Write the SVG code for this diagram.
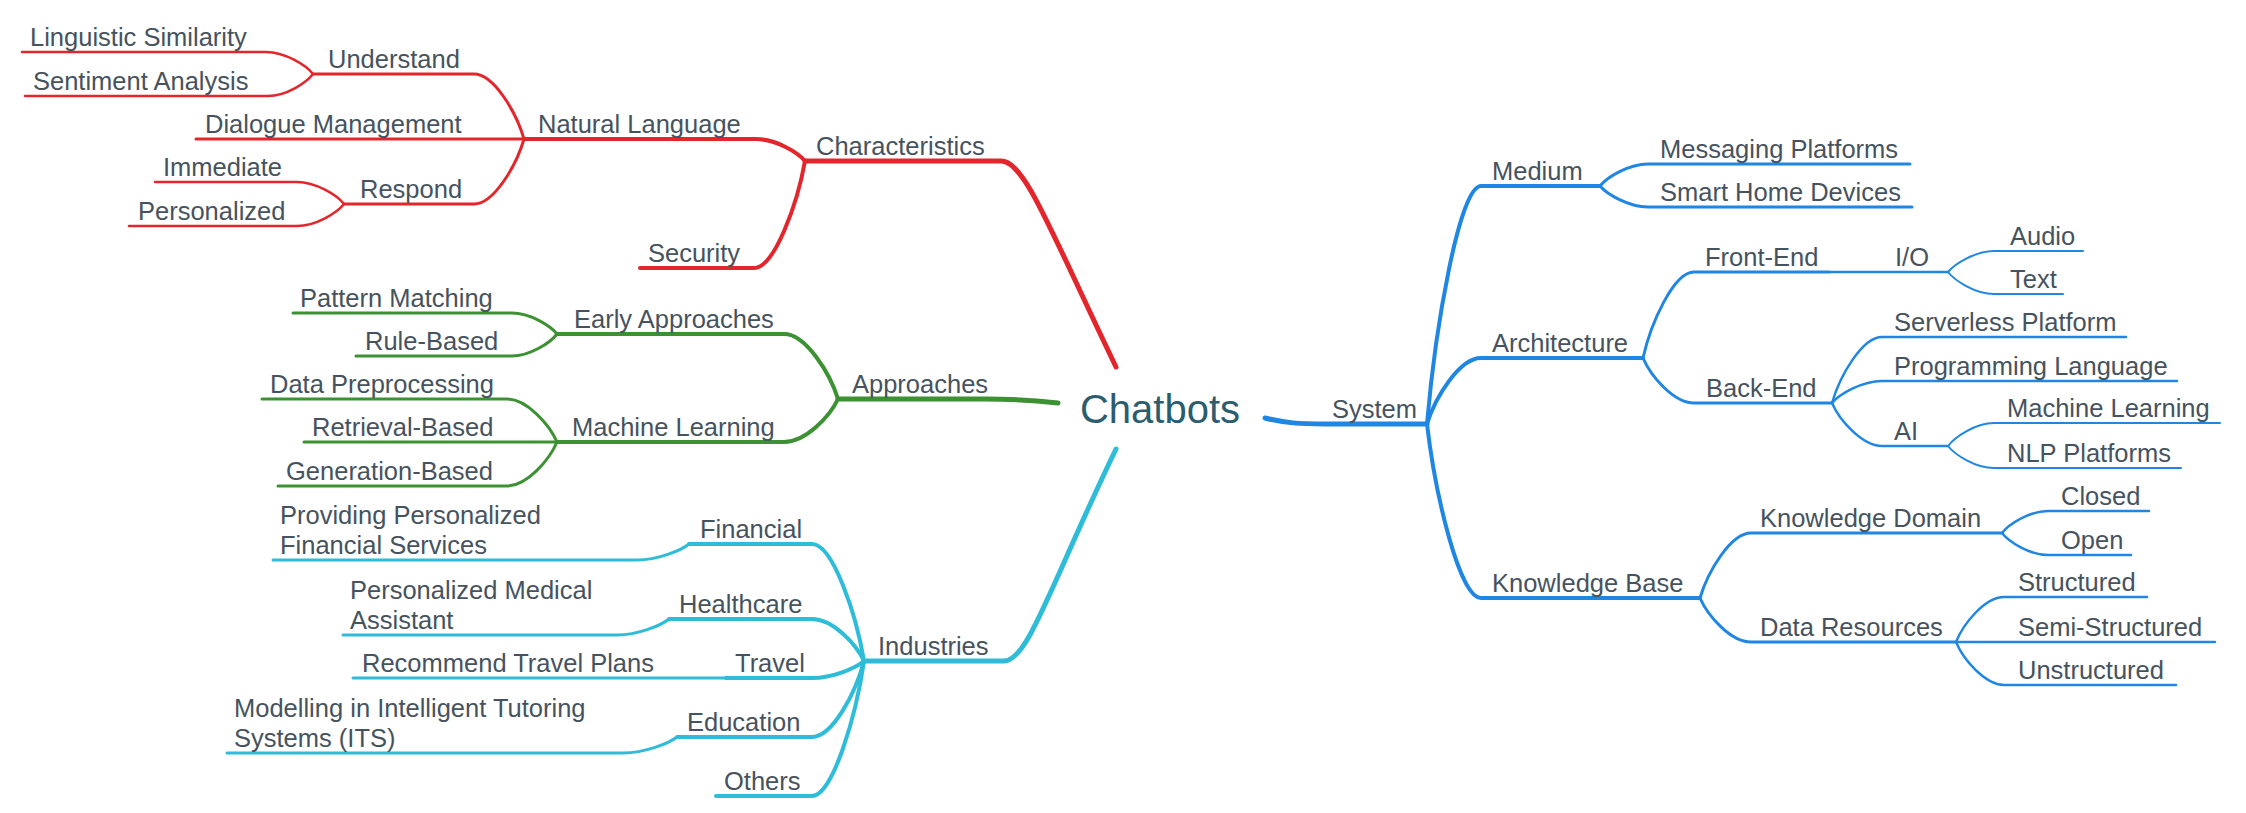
<svg xmlns="http://www.w3.org/2000/svg" width="2246" height="813" viewBox="0 0 2246 813">
<style>
.t{font-family:"Liberation Sans",Arial,Helvetica,sans-serif;font-size:25.5px;fill:#46535e}
.root{font-family:"Liberation Sans",Arial,Helvetica,sans-serif;font-size:40px;fill:#2c5d6f}
.c{fill:none;stroke-linecap:round;stroke-linejoin:round}
.r{stroke:#e3262b}.g{stroke:#3c9132}.y{stroke:#2ebcd8}.b{stroke:#1f87e3}
.w5{stroke-width:5}.w4{stroke-width:4}.w3{stroke-width:3}.w25{stroke-width:2.5}.w2{stroke-width:2}
</style>
<rect width="2246" height="813" fill="#ffffff"/>
<g id="connectors">
<!-- red -->
<path class="c r w5" d="M1116 367 C1050 230,1025 161,1001 161 L805 161"/>
<path class="c r w4" d="M805 161 C797.6 152.2,775.6 139,756 139 L524 139"/>
<path class="c r w4" d="M805 161 C797.4 203.8,774.4 268,754 268 L640 268"/>
<path class="c r w3" d="M524 139 C516.5 113,494 74,474 74 L313 74"/>
<path class="c r w3" d="M524 139 L196 139"/>
<path class="c r w3" d="M524 139 C516.5 165,494 204,474 204 L344 204"/>
<path class="c r w25" d="M313 74 C306 65.2,284.8 52,266 52 L22 52"/>
<path class="c r w25" d="M313 74 C306.3 82.8,286 96,268 96 L25 96"/>
<path class="c r w25" d="M344 204 C337 195.2,315.8 182,297 182 L155 182"/>
<path class="c r w25" d="M344 204 C337 212.8,315.8 226,297 226 L129 226"/>
<!-- green -->
<path class="c g w5" d="M1058 403 C1030 400,1010 399,985 399 L838 399"/>
<path class="c g w4" d="M838 399 C829.9 373,805.6 334,784 334 L557 334"/>
<path class="c g w4" d="M838 399 C829.9 416.2,805.6 442,784 442 L557 442"/>
<path class="c g w3" d="M557 334 C550.3 325.6,530 313,512 313 L293 313"/>
<path class="c g w3" d="M557 334 C550.3 342.8,530 356,512 356 L356 356"/>
<path class="c g w3" d="M557 442 C549.5 424.8,527 399,507 399 L262 399"/>
<path class="c g w3" d="M557 442 L304 442"/>
<path class="c g w3" d="M557 442 C549.5 459.6,527 486,507 486 L278 486"/>
<!-- cyan -->
<path class="c y w5" d="M1116 449 C1050 586,1028 661,1004 661 L864 661"/>
<path class="c y w4" d="M864 661 C856.2 614.2,832.8 544,812 544 L689 544"/>
<path class="c y w4" d="M864 661 C856.2 644.2,832.8 619,812 619 L669 619"/>
<path class="c y w4" d="M864 661 C856.2 667.8,832.8 678,812 678 L726 678"/>
<path class="c y w4" d="M864 661 C856.2 691.4,832.8 737,812 737 L677 737"/>
<path class="c y w4" d="M864 661 C856.2 715,832.8 796,812 796 L716 796"/>
<path class="c y w3" d="M689 544 C681.2 550.4,657.8 560,637 560 L273 560"/>
<path class="c y w3" d="M669 619 C661.2 625.4,637.8 635,617 635 L343 635"/>
<path class="c y w3" d="M726 678 L353 678"/>
<path class="c y w3" d="M677 737 C668.9 743.4,644.6 753,623 753 L227 753"/>
<!-- blue -->
<path class="c b w5" d="M1265 418 C1285 423,1300 424,1325 424 L1427 424"/>
<path class="c b w4" d="M1427 424 C1435.1 328.8,1459.4 186,1481 186 L1600 186"/>
<path class="c b w4" d="M1427 424 C1435.1 397.6,1459.4 358,1481 358 L1643 358"/>
<path class="c b w4" d="M1427 424 C1435.1 493.6,1459.4 598,1481 598 L1700 598"/>
<path class="c b w3" d="M1600 186 C1607.2 177.2,1628.8 164,1648 164 L1910 164"/>
<path class="c b w3" d="M1600 186 C1607.2 194.4,1628.8 207,1648 207 L1912 207"/>
<path class="c b w3" d="M1643 358 C1650.7 323.6,1673.6 272,1694 272 L1829 272"/>
<path class="c b w3" d="M1643 358 C1650.7 376,1673.6 403,1694 403 L1832 403"/>
<path class="c b w25" d="M1829 272 L1948 272"/>
<path class="c b w2" d="M1948 272 C1954.9 263.6,1975.6 251,1994 251 L2083 251"/>
<path class="c b w2" d="M1948 272 C1954.9 280.8,1975.6 294,1994 294 L2063 294"/>
<path class="c b w25" d="M1832 403 C1839.5 376.6,1862 337,1882 337 L2126 337"/>
<path class="c b w25" d="M1832 403 C1839.5 394.2,1862 381,1882 381 L2177 381"/>
<path class="c b w25" d="M1832 403 C1839.5 420.2,1862 446,1882 446 L1948 446"/>
<path class="c b w2" d="M1948 446 C1954.9 436.8,1975.6 423,1994 423 L2220 423"/>
<path class="c b w2" d="M1948 446 C1954.9 454.8,1975.6 468,1994 468 L2181 468"/>
<path class="c b w3" d="M1700 598 C1707.7 572,1730.6 533,1751 533 L2002 533"/>
<path class="c b w3" d="M1700 598 C1707.7 615.6,1730.6 642,1751 642 L1956 642"/>
<path class="c b w25" d="M2002 533 C2008.9 524.2,2029.6 511,2048 511 L2149 511"/>
<path class="c b w25" d="M2002 533 C2008.9 541.8,2029.6 555,2048 555 L2131 555"/>
<path class="c b w25" d="M1956 642 C1963.2 624,1984.8 597,2004 597 L2147 597"/>
<path class="c b w25" d="M1956 642 L2215 642"/>
<path class="c b w25" d="M1956 642 C1963.2 659.2,1984.8 685,2004 685 L2176 685"/>
</g>
<g id="node-chatbots"><text class="root" x="1160" y="423" text-anchor="middle">Chatbots</text></g>
<g id="node-characteristics"><text class="t" x="816" y="155">Characteristics</text></g>
<g id="node-natural-language"><text class="t" x="538" y="133">Natural Language</text></g>
<g id="node-security"><text class="t" x="648" y="262">Security</text></g>
<g id="node-understand"><text class="t" x="328" y="68">Understand</text></g>
<g id="node-dialogue-management"><text class="t" x="205" y="133">Dialogue Management</text></g>
<g id="node-respond"><text class="t" x="360" y="198">Respond</text></g>
<g id="node-linguistic-similarity"><text class="t" x="30" y="46">Linguistic Similarity</text></g>
<g id="node-sentiment-analysis"><text class="t" x="33" y="90">Sentiment Analysis</text></g>
<g id="node-immediate"><text class="t" x="163" y="176">Immediate</text></g>
<g id="node-personalized"><text class="t" x="138" y="220">Personalized</text></g>
<g id="node-approaches"><text class="t" x="852" y="393">Approaches</text></g>
<g id="node-early-approaches"><text class="t" x="574" y="328">Early Approaches</text></g>
<g id="node-machine-learning-left"><text class="t" x="572" y="436">Machine Learning</text></g>
<g id="node-pattern-matching"><text class="t" x="300" y="307">Pattern Matching</text></g>
<g id="node-rule-based"><text class="t" x="365" y="350">Rule-Based</text></g>
<g id="node-data-preprocessing"><text class="t" x="270" y="393">Data Preprocessing</text></g>
<g id="node-retrieval-based"><text class="t" x="312" y="436">Retrieval-Based</text></g>
<g id="node-generation-based"><text class="t" x="286" y="480">Generation-Based</text></g>
<g id="node-industries"><text class="t" x="878" y="655">Industries</text></g>
<g id="node-financial"><text class="t" x="700" y="538">Financial</text></g>
<g id="node-healthcare"><text class="t" x="679" y="613">Healthcare</text></g>
<g id="node-travel"><text class="t" x="735" y="672">Travel</text></g>
<g id="node-education"><text class="t" x="687" y="731">Education</text></g>
<g id="node-others"><text class="t" x="724" y="790">Others</text></g>
<g id="node-providing"><text class="t" x="280" y="524">Providing Personalized</text><text class="t" x="280" y="554">Financial Services</text></g>
<g id="node-medical-assistant"><text class="t" x="350" y="599">Personalized Medical</text><text class="t" x="350" y="629">Assistant</text></g>
<g id="node-travel-plans"><text class="t" x="362" y="672">Recommend Travel Plans</text></g>
<g id="node-its"><text class="t" x="234" y="717">Modelling in Intelligent Tutoring</text><text class="t" x="234" y="747">Systems (ITS)</text></g>
<g id="node-system"><text class="t" x="1332" y="418">System</text></g>
<g id="node-medium"><text class="t" x="1492" y="180">Medium</text></g>
<g id="node-architecture"><text class="t" x="1492" y="352">Architecture</text></g>
<g id="node-knowledge-base"><text class="t" x="1492" y="592">Knowledge Base</text></g>
<g id="node-messaging"><text class="t" x="1660" y="158">Messaging Platforms</text></g>
<g id="node-smart-home"><text class="t" x="1660" y="201">Smart Home Devices</text></g>
<g id="node-front-end"><text class="t" x="1705" y="266">Front-End</text></g>
<g id="node-io"><text class="t" x="1895" y="266">I/O</text></g>
<g id="node-audio"><text class="t" x="2010" y="245">Audio</text></g>
<g id="node-text"><text class="t" x="2010" y="288">Text</text></g>
<g id="node-back-end"><text class="t" x="1706" y="397">Back-End</text></g>
<g id="node-serverless"><text class="t" x="1894" y="331">Serverless Platform</text></g>
<g id="node-programming"><text class="t" x="1894" y="375">Programming Language</text></g>
<g id="node-ai"><text class="t" x="1894" y="440">AI</text></g>
<g id="node-machine-learning-right"><text class="t" x="2007" y="417">Machine Learning</text></g>
<g id="node-nlp"><text class="t" x="2007" y="462">NLP Platforms</text></g>
<g id="node-knowledge-domain"><text class="t" x="1760" y="527">Knowledge Domain</text></g>
<g id="node-data-resources"><text class="t" x="1760" y="636">Data Resources</text></g>
<g id="node-closed"><text class="t" x="2061" y="505">Closed</text></g>
<g id="node-open"><text class="t" x="2061" y="549">Open</text></g>
<g id="node-structured"><text class="t" x="2018" y="591">Structured</text></g>
<g id="node-semi-structured"><text class="t" x="2018" y="636">Semi-Structured</text></g>
<g id="node-unstructured"><text class="t" x="2018" y="679">Unstructured</text></g>
</svg>
